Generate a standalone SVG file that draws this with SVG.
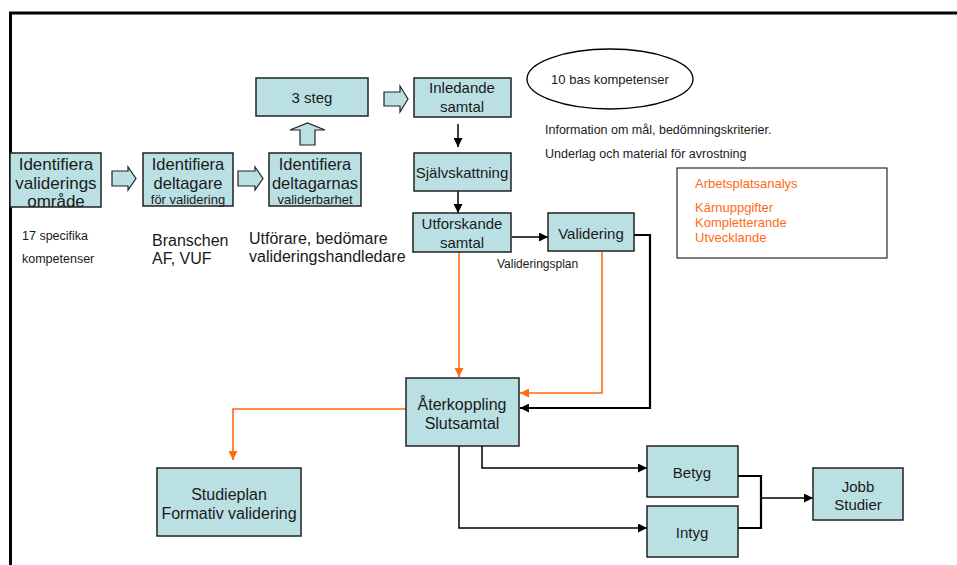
<svg xmlns="http://www.w3.org/2000/svg" width="957" height="565" viewBox="0 0 957 565">
<defs>
<style>
.box{fill:#bbe0e3;stroke:#222;stroke-width:1.5}
.blk{fill:#bbe0e3;stroke:#222;stroke-width:1.2}
.t{font-family:"Liberation Sans",Arial,sans-serif;fill:#1a1a1a;text-anchor:middle}
.l{font-family:"Liberation Sans",Arial,sans-serif;fill:#1a1a1a}
.o{font-family:"Liberation Sans",Arial,sans-serif;fill:#ff6a13;font-size:13px}
.c{fill:none;stroke:#000;stroke-width:1.5}
.cb{fill:none;stroke:#000;stroke-width:2.2}
.co{fill:none;stroke:#ff6a13;stroke-width:1.6}
</style>
<marker id="ab" viewBox="0 0 10 10" refX="10" refY="5" markerWidth="9" markerHeight="9" markerUnits="userSpaceOnUse" orient="auto"><path d="M0,0 L10,5 L0,10 z" fill="#000"/></marker>
<marker id="ao" viewBox="0 0 10 10" refX="10" refY="5" markerWidth="9" markerHeight="9" markerUnits="userSpaceOnUse" orient="auto"><path d="M0,0 L10,5 L0,10 z" fill="#ff6a13"/></marker>
</defs>
<rect width="957" height="565" fill="#fff"/>
<!-- frame -->
<path d="M9,13 H957 M10.5,12 V565" fill="none" stroke="#000" stroke-width="3"/>

<!-- block arrows -->
<g id="blockarrows">
<polygon class="blk" points="112,171 128,171 128,167 136,178.5 128,190 128,186 112,186"/>
<polygon class="blk" points="238,171 255,171 255,167 263,178.5 255,190 255,186 238,186"/>
<polygon class="blk" points="300,145 300,130 290,130 307.5,123 325,130 315,130 315,145"/>
<polygon class="blk" points="384,92 400,92 400,86 408,99 400,112 400,106 384,106"/>
</g>

<!-- connectors -->
<g id="connectors">
<path class="c" d="M458,124 V147" marker-end="url(#ab)"/>
<path class="c" d="M458,191 V213" marker-end="url(#ab)"/>
<path class="c" d="M512,237 H548" marker-end="url(#ab)"/>
<path class="cb" d="M634,235 H650 V408 H520" marker-end="url(#ab)"/>
<path class="co" d="M459,252 V377" marker-end="url(#ao)"/>
<path class="co" d="M602,252 V393 H520" marker-end="url(#ao)"/>
<path class="co" d="M406,409 H233 V460" marker-end="url(#ao)"/>
<path class="c" d="M482,446 V468 H647" marker-end="url(#ab)"/>
<path class="c" d="M459,446 V528 H647" marker-end="url(#ab)"/>
<path class="cb" d="M738,476 H761 V528 H738"/>
<path class="c" d="M761,498 H813" marker-end="url(#ab)"/>
</g>

<g id="n1"><rect class="box" x="10" y="153" width="91" height="54"/>
<text class="t" font-size="17" x="56" y="170">Identifiera</text>
<text class="t" font-size="17" x="56" y="189">validerings</text>
<text class="t" font-size="17" x="56" y="207">område</text></g>

<g id="n2"><rect class="box" x="143" y="153" width="90" height="53"/>
<text class="t" font-size="16.5" x="188" y="170">Identifiera</text>
<text class="t" font-size="16.5" x="188" y="189">deltagare</text>
<text class="t" font-size="13" x="188" y="204">för validering</text></g>

<g id="n3"><rect class="box" x="269" y="153" width="92" height="53"/>
<text class="t" font-size="16.5" x="315" y="170">Identifiera</text>
<text class="t" font-size="16.5" x="315" y="189">deltagarnas</text>
<text class="t" font-size="13" x="315" y="204">validerbarhet</text></g>

<g id="n4"><rect class="box" x="256" y="78" width="112" height="38"/>
<text class="t" font-size="15" x="312" y="103">3 steg</text></g>

<g id="n5"><rect class="box" x="414" y="78" width="97" height="39"/>
<text class="t" font-size="15" x="462" y="93">Inledande</text>
<text class="t" font-size="15" x="462" y="112">samtal</text></g>

<g id="n6"><rect class="box" x="414" y="153" width="97" height="38"/>
<text class="t" font-size="15" x="462" y="178">Självskattning</text></g>

<g id="n7"><rect class="box" x="413" y="213" width="98" height="39"/>
<text class="t" font-size="15" x="462" y="229">Utforskande</text>
<text class="t" font-size="15" x="462" y="248">samtal</text></g>

<g id="n8"><rect class="box" x="548" y="213" width="86" height="38"/>
<text class="t" font-size="15" x="591" y="239">Validering</text></g>

<g id="n9"><rect class="box" x="406" y="378" width="113" height="68"/>
<text class="t" font-size="16" x="462" y="410">Återkoppling</text>
<text class="t" font-size="16" x="462" y="429">Slutsamtal</text></g>

<g id="n10"><rect class="box" x="157" y="468" width="144" height="68"/>
<text class="t" font-size="16" x="229" y="500">Studieplan</text>
<text class="t" font-size="16" x="229" y="519">Formativ validering</text></g>

<g id="n11"><rect class="box" x="647" y="446" width="91" height="51"/>
<text class="t" font-size="15" x="692" y="478">Betyg</text></g>

<g id="n12"><rect class="box" x="647" y="506" width="91" height="51"/>
<text class="t" font-size="15" x="692" y="538">Intyg</text></g>

<g id="n13"><rect class="box" x="813" y="468" width="90" height="52"/>
<text class="t" font-size="15" x="858" y="492">Jobb</text>
<text class="t" font-size="15" x="858" y="510">Studier</text></g>

<g id="n14"><ellipse cx="610" cy="79" rx="83" ry="30" fill="#fff" stroke="#000" stroke-width="1.3"/>
<text class="t" font-size="13" x="610" y="84">10 bas kompetenser</text></g>

<g id="n15"><rect x="677" y="168" width="210" height="90" fill="#fff" stroke="#000" stroke-width="1"/>
<text class="o" x="695" y="188">Arbetsplatsanalys</text>
<text class="o" x="695" y="212">Kärnuppgifter</text>
<text class="o" x="695" y="227">Kompletterande</text>
<text class="o" x="695" y="242">Utvecklande</text></g>

<g id="labels">
<text class="l" font-size="12.5" x="22" y="240">17 specifika</text>
<text class="l" font-size="12.5" x="22" y="263">kompetenser</text>
<text class="l" font-size="16" x="152" y="246">Branschen</text>
<text class="l" font-size="16" x="152" y="264">AF, VUF</text>
<text class="l" font-size="16" x="249" y="244">Utförare, bedömare</text>
<text class="l" font-size="16" x="249" y="262">valideringshandledare</text>
<text class="l" font-size="12.5" x="545" y="134">Information om mål, bedömningskriterier.</text>
<text class="l" font-size="12.5" x="545" y="158">Underlag och material för avrostning</text>
<text class="l" font-size="12" x="497" y="268">Valideringsplan</text>
</g>
</svg>
